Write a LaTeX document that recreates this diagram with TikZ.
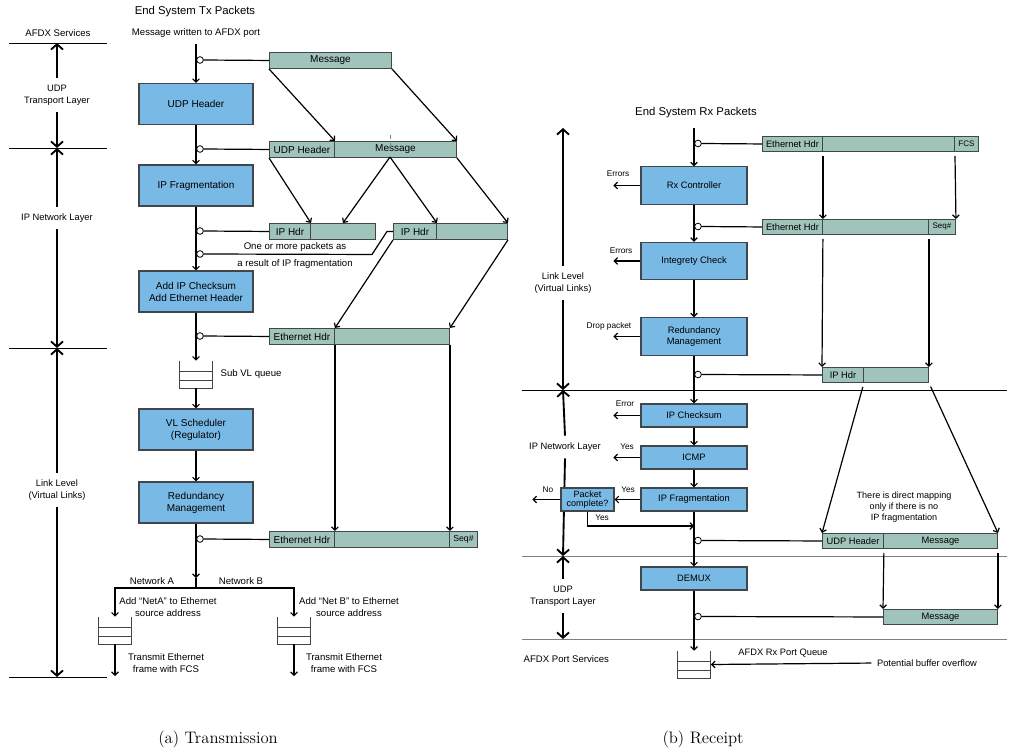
\documentclass[tikz,border=0pt]{standalone}
\usepackage{fontspec}
\newfontfamily\arialfont{Liberation Sans}
\usepackage{xcolor}
\usepackage{tikz}
\usetikzlibrary{arrows.meta, positioning, calc}

\definecolor{procblue}{RGB}{121,185,229}
\definecolor{pktgreen}{RGB}{160,196,186}
\definecolor{edgegray}{RGB}{65,70,75}

\tikzset{
  proc/.style={draw=edgegray, line width=0.8pt, fill=procblue, align=center,
    font=\arialfont\fontsize{7.5}{9}\selectfont, minimum width=85.5pt,
    minimum height=30.75pt, inner sep=1pt},
  rxproc/.style={proc, font=\arialfont\fontsize{7}{8.4}\selectfont, minimum width=79.5pt},
  pkt/.style={draw=edgegray, line width=0.7pt, fill=pktgreen, inner sep=0pt,
    anchor=north west, font=\arialfont\fontsize{7.5}{9}\selectfont},
  rxpkt/.style={pkt, font=\arialfont\fontsize{7}{8.4}\selectfont},
  tap/.style={circle, draw, fill=white, line width=0.6pt, inner sep=0pt, minimum size=5pt},
  flow/.style={line width=0.9pt, -{Straight Barb[length=2.5pt,width=5pt]}},
  link/.style={line width=0.9pt},
  layer/.style={line width=0.7pt},
  axisline/.style={line width=1.4pt, -{Straight Barb[length=4pt,width=9pt]}},
  lbl/.style={font=\arialfont\fontsize{7.2}{8.6}\selectfont, align=center, inner sep=1pt},
  layerlbl/.style={font=\arialfont\fontsize{7}{9}\selectfont, align=center, inner sep=5pt},
  note/.style={font=\arialfont\fontsize{6.2}{7}\selectfont, inner sep=1pt},
  heading/.style={font=\arialfont\fontsize{8.5}{10}\selectfont, inner sep=1pt},
  fifo/.style={minimum width=25pt, minimum height=20.25pt, inner sep=0pt},
  caption/.style={font=\fontsize{12.5}{15}\selectfont, inner sep=0pt}
}

% one field of a packet: name, x1, x2, y1, y2, text
\newcommand{\pktseg}[7][pkt]{\node[#1, minimum width={(#4-#3)*0.75pt},
  minimum height={(#6-#5)*0.75pt}] (#2) at (#3,#5) {#7};}
% open queue: name, x, y
\newcommand{\fifo}[3]{\node[fifo] (#1) at (#2,#3) {};
  \draw[layer, edgegray] (#1.north west) -- (#1.south west) -- (#1.south east) -- (#1.north east);
  \draw[layer, edgegray] ($(#1.south west)!0.3!(#1.north west)$) -- ($(#1.south east)!0.3!(#1.north east)$);
  \draw[layer, edgegray] ($(#1.south west)!0.6!(#1.north west)$) -- ($(#1.south east)!0.6!(#1.north east)$);}

\begin{document}
\begin{tikzpicture}[x=0.75pt, y=-0.75pt]
  \useasboundingbox (0,0) rectangle (1009,753);

  % ---------------- (a) transmission ----------------
  \node[heading] (txtitle) at (195,12) {End System Tx Packets};
  \node[lbl] (afdxsvc) at (58,33) {AFDX Services};
  \node[lbl] (txin) at (196,33) {Message written to AFDX port};
  \coordinate (txstart) at (196,44);

  % layers
  \draw[layer] (9,43) -- (107,43);
  \draw[layer] (9,148) -- (107,148);
  \draw[layer] (9,348) -- (107,348);
  \draw[layer] (9,677) -- (107,677);
  \node[layerlbl] (udpL) at (57,95) {UDP\\Transport Layer};
  \node[layerlbl] (ipL) at (57,218) {IP Network Layer};
  \node[layerlbl] (linkL) at (57,490) {Link Level\\(Virtual Links)};
  \draw[axisline] (udpL.north) -- (57,43);
  \draw[axisline] (udpL.south) -- (57,148);
  \draw[axisline] (ipL.north) -- (57,148);
  \draw[axisline] (ipL.south) -- (57,348);
  \draw[axisline] (linkL.north) -- (57,348);
  \draw[axisline] (linkL.south) -- (57,677);

  % processing steps
  \node[proc] (udph) at (196,104) {UDP Header};
  \node[proc] (ipfrag) at (196,185.5) {IP Fragmentation};
  \node[proc] (addck) at (196,291.5) {Add IP Checksum\\Add Ethernet Header};
  \node[proc] (vlsch) at (196,429.5) {VL Scheduler\\(Regulator)};
  \node[proc] (redtx) at (196,502.5) {Redundancy\\Management};

  % packets
  \pktseg{msg1}{269}{391}{52}{68}{Message}
  \pktseg{udp2h}{269}{334}{141}{157}{UDP Header}
  \pktseg{udp2m}{334}{456}{141}{157}{Message}
  \pktseg{ip1h}{269}{310}{223}{239}{IP Hdr}
  \pktseg{ip1d}{310}{375}{223}{239}{}
  \pktseg{ip2h}{393}{436}{223}{239}{IP Hdr}
  \pktseg{ip2d}{436}{507}{223}{239}{}
  \pktseg{eth1h}{269}{334}{328}{344}{Ethernet Hdr}
  \pktseg{eth1d}{334}{449}{328}{344}{}
  \pktseg{eth2h}{269}{334}{531}{547}{Ethernet Hdr}
  \pktseg{eth2d}{334}{449}{531}{547}{}
  \pktseg{eth2s}{449}{477}{531}{547}{\fontsize{6.5}{7}\selectfont Seq\#}
  \coordinate (split) at (390,157);
  \draw[gray, dashed, line width=0.6pt] ($(split)+(0,-22)$) -- ($(split)+(0,-9)$);

  % taps
  \node[tap] (tp1) at (200,60) {};
  \node[tap] (tp2) at (200,149) {};
  \node[tap] (tp3) at (200,231) {};
  \node[tap] (tp4) at (200,254) {};
  \node[tap] (tp5) at (200,336) {};
  \node[tap] (tp6) at (200,539) {};

  % main flow
  \draw[flow] (txstart) -- (udph.north);
  \draw[flow] (udph.south) -- (ipfrag.north);
  \draw[flow] (ipfrag.south) -- (addck.north);
  \fifo{q1}{196}{374.5}
  \node[lbl, anchor=west] (q1lbl) at (219,374) {Sub VL queue};
  \draw[flow] (addck.south) -- (q1.north);
  \draw[flow] (q1.south) -- (vlsch.north);
  \draw[flow] (vlsch.south) -- (redtx.north);
  \coordinate (fork) at (196,588);
  \draw[flow] (redtx.south) -- ($(fork)+(0,-10)$);
  \draw[link] ($(fork)+(0,-10)$) -- (fork);

  \draw[link] (tp1.east) -- (msg1.west);
  \draw[link] (tp2.east) -- (udp2h.west);
  \draw[link] (tp3.east) -- (ip1h.west);
  \draw[link] (tp4.east) -- ($(ip2h.west)+(-21,23)$) -- ($(ip2h.west)+(-6,0)$) -- (ip2h.west);
  \draw[link] (tp5.east) -- (eth1h.west);
  \draw[link] (tp6.east) -- (eth2h.west);
  \node[lbl] (fragtxt1) at (295,247) {One or more packets as};
  \node[lbl] (fragtxt2) at (295,264) {a result of IP fragmentation};

  % packet mapping
  \draw[flow] (msg1.south west) -- (udp2h.north east);
  \draw[flow] (msg1.south east) -- (udp2m.north east);
  \draw[flow] (udp2h.south west) -- (ip1h.north east);
  \draw[flow] (split) -- (ip1d.north);
  \draw[flow] (split) -- (ip2h.north east);
  \draw[flow] (udp2m.south east) -- (ip2d.north east);
  \draw[flow] (ip2h.south west) -- (eth1h.north east);
  \draw[flow] (ip2d.south east) -- (eth1d.north east);
  \draw[flow] (eth1h.south east) -- (eth2h.north east);
  \draw[flow] (eth1d.south east) -- (eth2d.north east);

  % networks A and B
  \fifo{qa}{115}{630.5}
  \fifo{qb}{294}{630.5}
  \draw[flow] (fork) -| (qa.north);
  \draw[flow] (fork) -| (qb.north);
  \node[lbl] (netA) at (152,581) {Network A};
  \node[lbl] (netB) at (241,581) {Network B};
  \node[lbl] (addA) at (168,607) {Add “NetA” to Ethernet\\source address};
  \node[lbl] (addB) at (349,607) {Add “Net B” to Ethernet\\source address};
  \coordinate (outA) at (115,676);
  \coordinate (outB) at (294,676);
  \draw[flow] (qa.south) -- (outA);
  \draw[flow] (qb.south) -- (outB);
  \node[lbl] (sendA) at (166,663) {Transmit Ethernet\\frame with FCS};
  \node[lbl] (sendB) at (344,663) {Transmit Ethernet\\frame with FCS};

  % ---------------- (b) receipt ----------------
  \node[heading] (rxtitle) at (696,113) {End System Rx Packets};
  \coordinate (rxin) at (694,128);

  \draw[layer] (522,390) -- (1007,390);
  \draw[layer, gray] (522,556) -- (1007,556);
  \draw[layer, gray] (522,639) -- (1007,639);
  \node[layerlbl] (linkR) at (563,283) {Link Level\\(Virtual Links)};
  \node[layerlbl] (ipR) at (565,447) {IP Network Layer};
  \node[layerlbl] (udpR) at (563,596) {UDP\\Transport Layer};
  \node[lbl, anchor=west] (afdxR) at (522,659) {AFDX Port Services};
  \draw[axisline] (linkR.north) -- (563,128);
  \draw[axisline] (linkR.south) -- (563,390);
  \draw[axisline] (ipR.north) -- (563,390);
  \draw[axisline] (ipR.south) -- (563,556);
  \draw[axisline] (udpR.north) -- (563,556);
  \draw[axisline] (udpR.south) -- (563,639);

  \node[rxproc, minimum height=28pt] (rxc) at (694,185.5) {Rx Controller};
  \node[rxproc, minimum height=28pt] (intc) at (694,261) {Integrety Check};
  \node[rxproc, minimum height=28pt] (redrx) at (694,336.5) {Redundancy\\Management};
  \node[rxproc, minimum height=17.25pt] (ipck) at (694,415.5) {IP Checksum};
  \node[rxproc, minimum height=17.25pt] (icmp) at (694,457.5) {ICMP};
  \node[rxproc, minimum height=17.25pt] (ipfr) at (694,499.5) {IP Fragmentation};
  \node[rxproc, minimum height=17.25pt] (demux) at (694,578.5) {DEMUX};
  \node[rxproc, minimum width=39.75pt, minimum height=17.25pt,
    font=\arialfont\fontsize{6.8}{6.8}\selectfont, inner sep=0pt] (pktc) at (587.5,499.5) {Packet\\complete?};

  \pktseg[rxpkt]{fcsh}{762}{822}{136}{151}{Ethernet Hdr}
  \pktseg[rxpkt]{fcsd}{822}{954}{136}{151}{}
  \pktseg[rxpkt]{fcsf}{954}{978}{136}{151}{\fontsize{6}{7}\selectfont FCS}
  \pktseg[rxpkt]{seqh}{762}{822}{219}{234}{Ethernet Hdr}
  \pktseg[rxpkt]{seqd}{822}{928}{219}{234}{}
  \pktseg[rxpkt]{seqs}{928}{955}{219}{234}{\fontsize{6}{7}\selectfont Seq\#}
  \pktseg[rxpkt]{iprh}{822}{863}{367}{382}{IP Hdr}
  \pktseg[rxpkt]{iprd}{863}{928}{367}{382}{}
  \pktseg[rxpkt]{udprh}{822}{883}{533}{548}{UDP Header}
  \pktseg[rxpkt]{udprm}{883}{997}{533}{548}{Message}
  \pktseg[rxpkt]{msgr}{883}{997}{609}{624}{Message}

  \node[tap] (tr1) at (698,143.5) {};
  \node[tap] (tr2) at (698,226.5) {};
  \node[tap] (tr3) at (698,374.5) {};
  \node[tap] (tr4) at (698,540.5) {};
  \node[tap] (tr5) at (698,616.5) {};

  \draw[flow] (rxin) -- (rxc.north);
  \draw[flow] (rxc.south) -- (intc.north);
  \draw[flow] (intc.south) -- (redrx.north);
  \draw[flow] (redrx.south) -- (ipck.north);
  \draw[flow] (ipck.south) -- (icmp.north);
  \draw[flow] (icmp.south) -- (ipfr.north);
  \draw[flow] (ipfr.south) -- (demux.north);
  \fifo{qr}{694}{664.5}
  \draw[flow] (demux.south) -- (qr.north);

  \draw[link] (tr1.east) -- (fcsh.west);
  \draw[link] (tr2.east) -- (seqh.west);
  \draw[link] (tr3.east) -- (iprh.west);
  \draw[link] (tr4.east) -- (udprh.west);
  \draw[link] (tr5.east) -- (msgr.west);

  \draw[flow, shorten <=3pt] (fcsh.south east) -- (seqh.north east);
  \draw[flow, shorten <=3pt] (fcsd.south east) -- (seqs.north east);
  \draw[flow, shorten <=3pt] (seqh.south east) -- (iprh.north west);
  \draw[flow, shorten <=3pt] (seqd.south east) -- (iprd.north east);
  \draw[flow, shorten <=3pt] (iprh.south east) -- (udprh.north west);
  \draw[flow, shorten <=3pt] (iprd.south east) -- (udprm.north east);
  \draw[flow, shorten <=3pt] (udprh.south east) -- (msgr.north west);
  \draw[flow, shorten <=3pt] (udprm.south east) -- (msgr.north east);
  \node[lbl, font=\arialfont\fontsize{6.8}{8}\selectfont] (mapnote) at (904,507)
    {There is direct mapping\\only if there is no\\IP fragmentation};

  % side exits
  \draw[flow] (rxc.west) -- ++(-27,0) coordinate (rxcout);
  \draw[flow] (intc.west) -- ++(-27,0) coordinate (intcout);
  \draw[flow] (redrx.west) -- ++(-27,0) coordinate (redout);
  \draw[flow] (ipck.west) -- ++(-27,0) coordinate (ipckout);
  \draw[flow] (icmp.west) -- ++(-27,0) coordinate (icmpout);
  \draw[flow] (ipfr.west) -- (pktc.east);
  \draw[flow] (pktc.west) -- ++(-28,0) coordinate (pktout);
  \coordinate (yesin) at (694,526);
  \draw[flow] (pktc.south) |- (yesin);
  \node[note] (err1) at (618,174) {Errors};
  \node[note] (err2) at (621,251) {Errors};
  \node[note] (drop) at (609,326) {Drop packet};
  \node[note] (err3) at (625,404) {Error};
  \node[note] (yes1) at (627,447) {Yes};
  \node[note] (yes2) at (628,490) {Yes};
  \node[note] (no1) at (548,490) {No};
  \node[note] (yes3) at (602,518) {Yes};

  \node[lbl, font=\arialfont\fontsize{7}{8}\selectfont] (rxq) at (783,653) {AFDX Rx Port Queue};
  \node[lbl, font=\arialfont\fontsize{7}{8}\selectfont] (ovf) at (927,663) {Potential buffer overflow};
  \draw[flow, shorten <=3pt] (ovf.west) -- (qr.east);

  % captions
  \node[caption] (capa) at (218,739) {(a) Transmission};
  \node[caption] (capb) at (703,739) {(b) Receipt};
\end{tikzpicture}
\end{document}
